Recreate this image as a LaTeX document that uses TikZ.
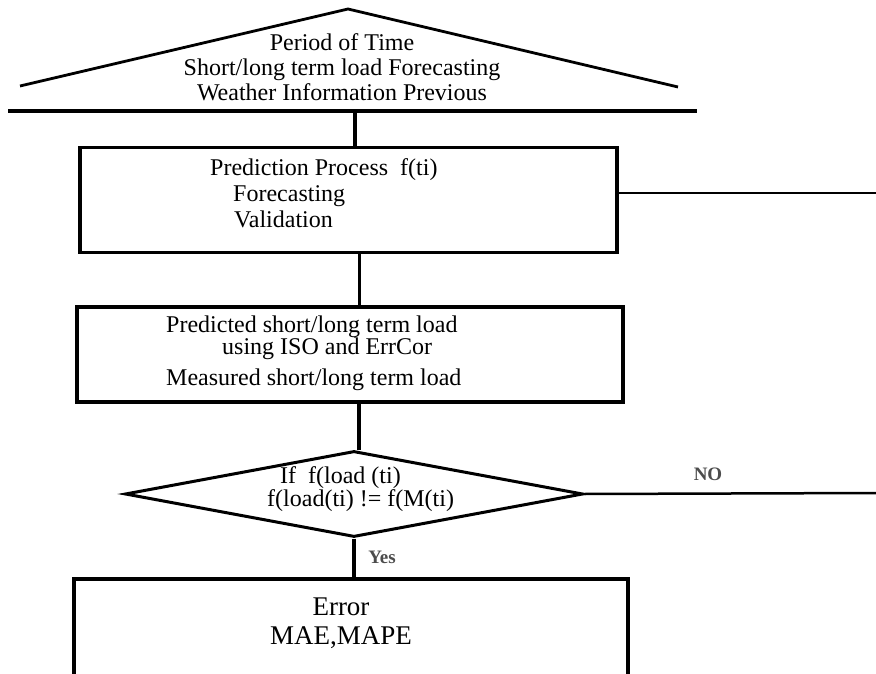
\documentclass[tikz,border=0pt]{standalone}
\usepackage{fontspec}
\setmainfont{Liberation Serif}
\usetikzlibrary{shapes.geometric, positioning, calc}

\tikzset{
  stage/.style={draw, line width=3.5pt, rectangle, inner sep=0pt},
  decision/.style={draw, line width=3pt, diamond, inner sep=0pt},
  flow/.style={line width=3.5pt},
  branch/.style={line width=2.5pt},
  txt/.style={font=\fontsize{24}{26}\selectfont, align=left, inner sep=0pt},
  tag/.style={font=\bfseries\fontsize{19}{21}\selectfont, text=black!70, inner sep=0pt}
}

\begin{document}
\begin{tikzpicture}[x=1pt, y=-1pt]
  \useasboundingbox (0,0) rectangle (876,674);

  % input triangle
  \coordinate (triL) at (20,86);
  \coordinate (triT) at (348,9);
  \coordinate (triR) at (678,87);
  \draw[line width=2.8pt] (triL) -- (triT) -- (triR);
  \node[txt, align=center, font=\fontsize{24}{25}\selectfont] (input) at (342,67)
    {Period of Time\\Short/long term load Forecasting\\Weather Information Previous};

  \coordinate (baseL) at (8,111);
  \coordinate (baseR) at (697,111);
  \coordinate (feed) at (355,111);
  \draw[flow] (baseL) -- (baseR);

  % prediction
  \node[stage, minimum width=537pt, minimum height=105pt] (predict) at (348.5,200) {};
  \node[txt, anchor=west] (predictText) at (210,193)
    {Prediction Process~~f(ti)\\\hspace*{23pt}Forecasting\\\hspace*{24pt}Validation};
  \draw[flow] (feed) -- (feed |- predict.north);

  \coordinate (loopA) at (876,193);
  \draw[branch] (loopA -| predict.east) -- (loopA);

  % predicted / measured
  \node[stage, minimum width=546pt, minimum height=95pt] (measure) at (350,354.5) {};
  \node[txt, anchor=west, font=\fontsize{24}{22}\selectfont] (measureText) at (166,353)
    {Predicted short/long term load\\\hspace*{56pt}using ISO and ErrCor\\[9pt]Measured short/long term load};
  \draw[flow] ([xshift=11pt]predict.south) -- ([xshift=11pt]predict.south |- measure.north);

  % check
  \node[decision, minimum width=458pt, minimum height=86pt] (check) at (354,494) {};
  \node[txt, anchor=west, font=\fontsize{24}{23}\selectfont] (checkText) at (267,489)
    {\hspace*{13pt}If~~f(load (ti)\\f(load(ti) != f(M(ti)};
  \draw[flow] ([xshift=9pt]measure.south) -- ([xshift=9pt]measure.south |- check.north);

  \coordinate (exitB) at (876,493);
  \draw[branch] (check.east) -- (exitB);
  \node[tag] (no) at (708,474) {NO};

  % error
  \node[stage, minimum width=554pt, minimum height=122pt] (result) at (351,640) {};
  \node[txt, align=center, font=\fontsize{27}{29}\selectfont] (resultText) at (341,623)
    {Error\\MAE,MAPE};
  \draw[flow] (check.south) -- (check.south |- result.north);
  \node[tag] (yes) at (382,557) {Yes};
\end{tikzpicture}
\end{document}
